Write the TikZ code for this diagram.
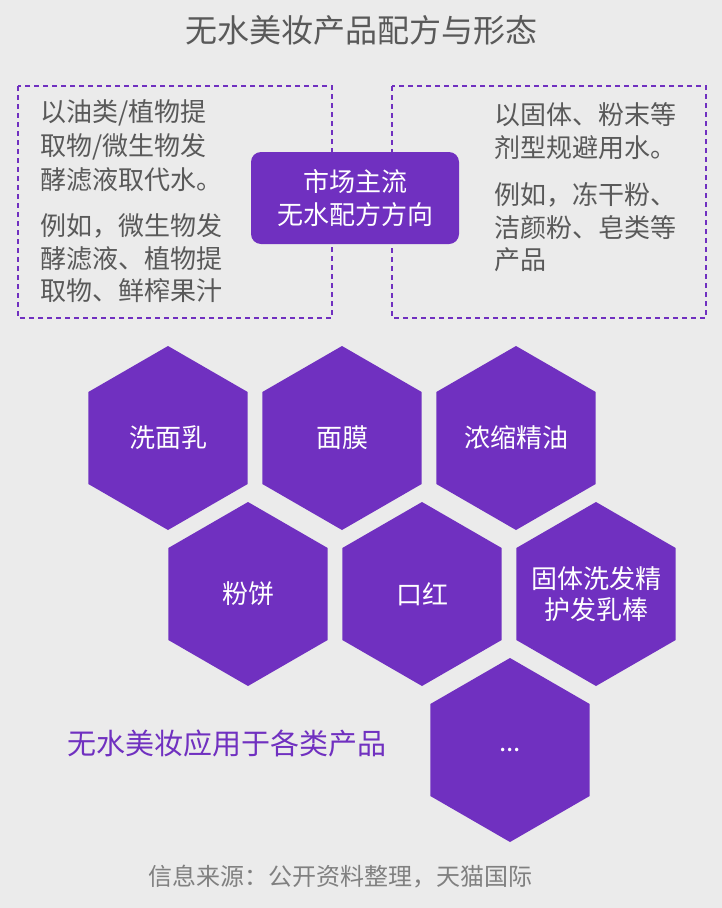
\documentclass[tikz,border=0pt]{standalone}
\usepackage{fontspec}
\setmainfont{Noto Sans CJK SC}
\usetikzlibrary{shapes.geometric}
\definecolor{pur}{HTML}{7030C0}
\definecolor{bg}{HTML}{EBEBEB}
\definecolor{gr}{HTML}{595959}
\begin{document}
\begin{tikzpicture}[x=1pt,y=-1pt,
  hexa/.style={regular polygon,regular polygon sides=6,shape border rotate=30,minimum size=184pt,inner sep=0pt,fill=pur},
  htxt/.style={text=white,font=\fontsize{26}{31}\selectfont,align=center,inner sep=0pt},
  dbox/.style={draw=pur,line width=1.5pt,dash pattern=on 5pt off 4pt},
  btxt/.style={anchor=west,text=gr,font=\fontsize{26}{30}\selectfont,inner sep=0pt}]
\fill[bg] (0,0) rectangle (722,908);
\useasboundingbox (0,0) rectangle (722,908);
\node[text=gr,font=\fontsize{32}{36}\selectfont] (title) at (361,30) {无水美妆产品配方与形态};
\draw[dbox] (18,86) rectangle (332,318);
\draw[dbox] (392,86) rectangle (706,318);
\node[btxt] (l1) at (40,113) {以油类/植物提};
\node[btxt] (l2) at (40,147) {取物/微生物发};
\node[btxt] (l3) at (40,180) {酵滤液取代水。};
\node[btxt] (l4) at (40,226) {例如，微生物发};
\node[btxt] (l5) at (40,259) {酵滤液、植物提};
\node[btxt] (l6) at (40,291) {取物、鲜榨果汁};
\node[btxt] (r1) at (494,115) {以固体、粉末等};
\node[btxt] (r2) at (494,148) {剂型规避用水。};
\node[btxt] (r3) at (494,195) {例如，冻干粉、};
\node[btxt] (r4) at (494,228) {洁颜粉、皂类等};
\node[btxt] (r5) at (494,260) {产品};
\node[fill=pur,rounded corners=10pt,minimum width=208pt,minimum height=92pt,text=white,align=center,font=\fontsize{26}{33}\selectfont] (c) at (355,198) {市场主流\\无水配方方向};
\node[hexa] (h1) at (168,438) {};
\node[hexa] (h2) at (342,438) {};
\node[hexa] (h3) at (516,438) {};
\node[hexa] (h4) at (248,594) {};
\node[hexa] (h5) at (422,594) {};
\node[hexa] (h6) at (596,594) {};
\node[hexa] (h7) at (510,750) {};
\node[htxt] (t1) at (h1) {洗面乳};
\node[htxt] (t2) at (h2) {面膜};
\node[htxt] (t3) at (h3) {浓缩精油};
\node[htxt] (t4) at (h4) {粉饼};
\node[htxt] (t5) at (h5) {口红};
\node[htxt] (t6) at (h6) {固体洗发精\\护发乳棒};
\node[htxt] (t7) at (h7) {...};
\node[text=pur,font=\fontsize{29}{32}\selectfont] (bt) at (227,743) {无水美妆应用于各类产品};
\node[text=gray,font=\fontsize{24}{28}\selectfont] (src) at (340,877) {信息来源：公开资料整理，天猫国际};
\end{tikzpicture}
\end{document}
